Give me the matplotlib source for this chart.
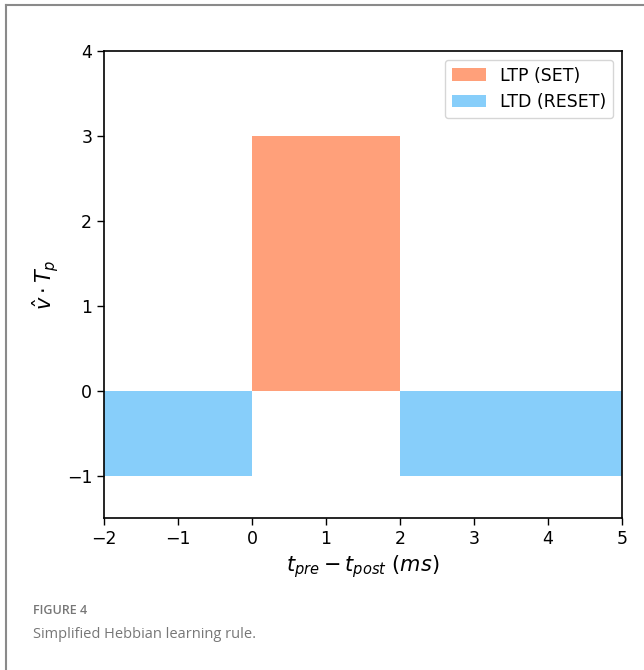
import matplotlib
matplotlib.use("Agg")
import matplotlib.pyplot as plt
from matplotlib.lines import Line2D

plt.rcParams['font.family'] = ['DejaVu Sans']
plt.rcParams['mathtext.fontset'] = 'dejavusans'

# Data
ltp_x = [0, 2]
ltp_y = [3, 3]
ltd_left_x = [-2, 0]
ltd_right_x = [2, 5]
ltd_y = [-1, -1]
xticks = [-2, -1, 0, 1, 2, 3, 4, 5]
yticks = [-1, 0, 1, 2, 3, 4]

fig = plt.figure(figsize=(6.44, 6.70), dpi=100)
ax = fig.add_axes([104/644, 1-518/670, (622-104)/644, (518-51)/670])

ax.fill_between(ltp_x, 0, ltp_y, color="#FFA07A", linewidth=0, label="LTP (SET)")
ax.fill_between(ltd_left_x, 0, ltd_y, color="#87CEFA", linewidth=0, label="LTD (RESET)")
ax.fill_between(ltd_right_x, 0, ltd_y, color="#87CEFA", linewidth=0)

ax.set_xlim(-2, 5)
ax.set_ylim(-1.5, 4)
ax.set_xticks(xticks)
ax.set_yticks(yticks)
for s in ax.spines.values():
    s.set_linewidth(1.2)
ax.tick_params(labelsize=12.5, width=1.0, length=5)
ax.set_xlabel(r"$t_{pre} - t_{post}\ (ms)$", fontsize=15)
ax.set_ylabel(r"$\hat{v} \cdot T_p$", fontsize=15)
ax.legend(loc="upper right", fontsize=12.5)

# card frame
fig.add_artist(Line2D([6/644, 6/644], [0, 1-5/670], transform=fig.transFigure, color="#8a8a8a", lw=1.5))
fig.add_artist(Line2D([6/644, 1], [1-5/670, 1-5/670], transform=fig.transFigure, color="#8a8a8a", lw=1.5))

fig.text(33/644, 1-610/670, "FIGURE 4", fontsize=9, color="#777777", family="Open Sans",
         weight="semibold", va="center")
fig.text(33/644, 1-634/670, "Simplified Hebbian learning rule.", fontsize=10.5, color="#777777",
         family="Open Sans", va="center")

fig.savefig("out.png", dpi=100)
